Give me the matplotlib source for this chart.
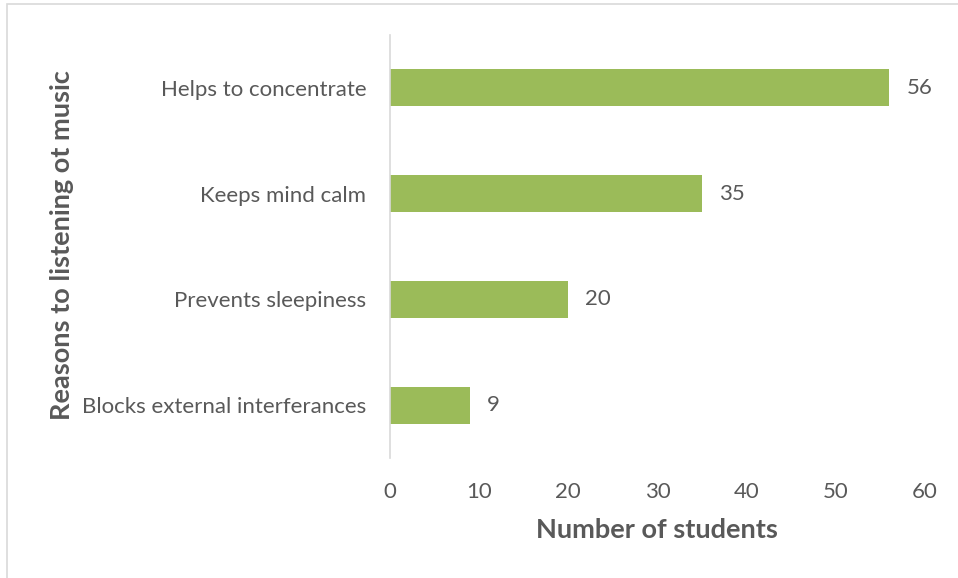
import matplotlib
matplotlib.use("Agg")
import matplotlib.pyplot as plt
from matplotlib.patches import Rectangle

categories = ["Blocks external interferances", "Prevents sleepiness", "Keeps mind calm", "Helps to concentrate"]
values = [9, 20, 35, 56]
xticks = [0, 10, 20, 30, 40, 50, 60]

plt.rcParams['font.family'] = ['Lato', 'DejaVu Sans']
text_color = '#595959'
bar_color = '#9BBB59'

W, H = 958, 578
fig = plt.figure(figsize=(W/100, H/100), dpi=100)
ax = fig.add_axes([390/W, (H-458)/H, (925-390)/W, (458-35)/H])

y = list(range(len(categories)))
ax.barh(y, values, height=0.35, color=bar_color)
for yi, v in zip(y, values):
    ax.annotate(str(v), (v, yi), xytext=(17, 0), textcoords='offset pixels',
                va='center', ha='left', fontsize=16, color=text_color)

ax.set_xlim(0, 60)
ax.set_ylim(-0.5, len(categories) - 0.5)
ax.set_xticks(xticks)
ax.set_xticklabels([str(t) for t in xticks])
ax.set_yticks(y)
ax.set_yticklabels(categories)
ax.tick_params(axis='both', length=0, labelsize=16, labelcolor=text_color)
ax.tick_params(axis='x', pad=17)
ax.tick_params(axis='y', pad=17)
for s in ['top', 'right', 'bottom']:
    ax.spines[s].set_visible(False)
ax.spines['left'].set_color('#D9D9D9')
ax.spines['left'].set_linewidth(1.2)

fig.text(657/W, 1 - 530/H, "Number of students", ha='center', va='center',
         fontsize=19.5, fontweight='bold', color=text_color)
fig.text(62/W, 1 - 245/H, "Reasons to listening ot music", ha='center', va='center',
         rotation=90, fontsize=19.5, fontweight='bold', color=text_color)

fig.patches.append(Rectangle((7/W, -0.1), 1.2, (H-4)/H + 0.1, transform=fig.transFigure,
                             fill=False, edgecolor='#D9D9D9', linewidth=1.2))

fig.savefig("out.png", dpi=100)
